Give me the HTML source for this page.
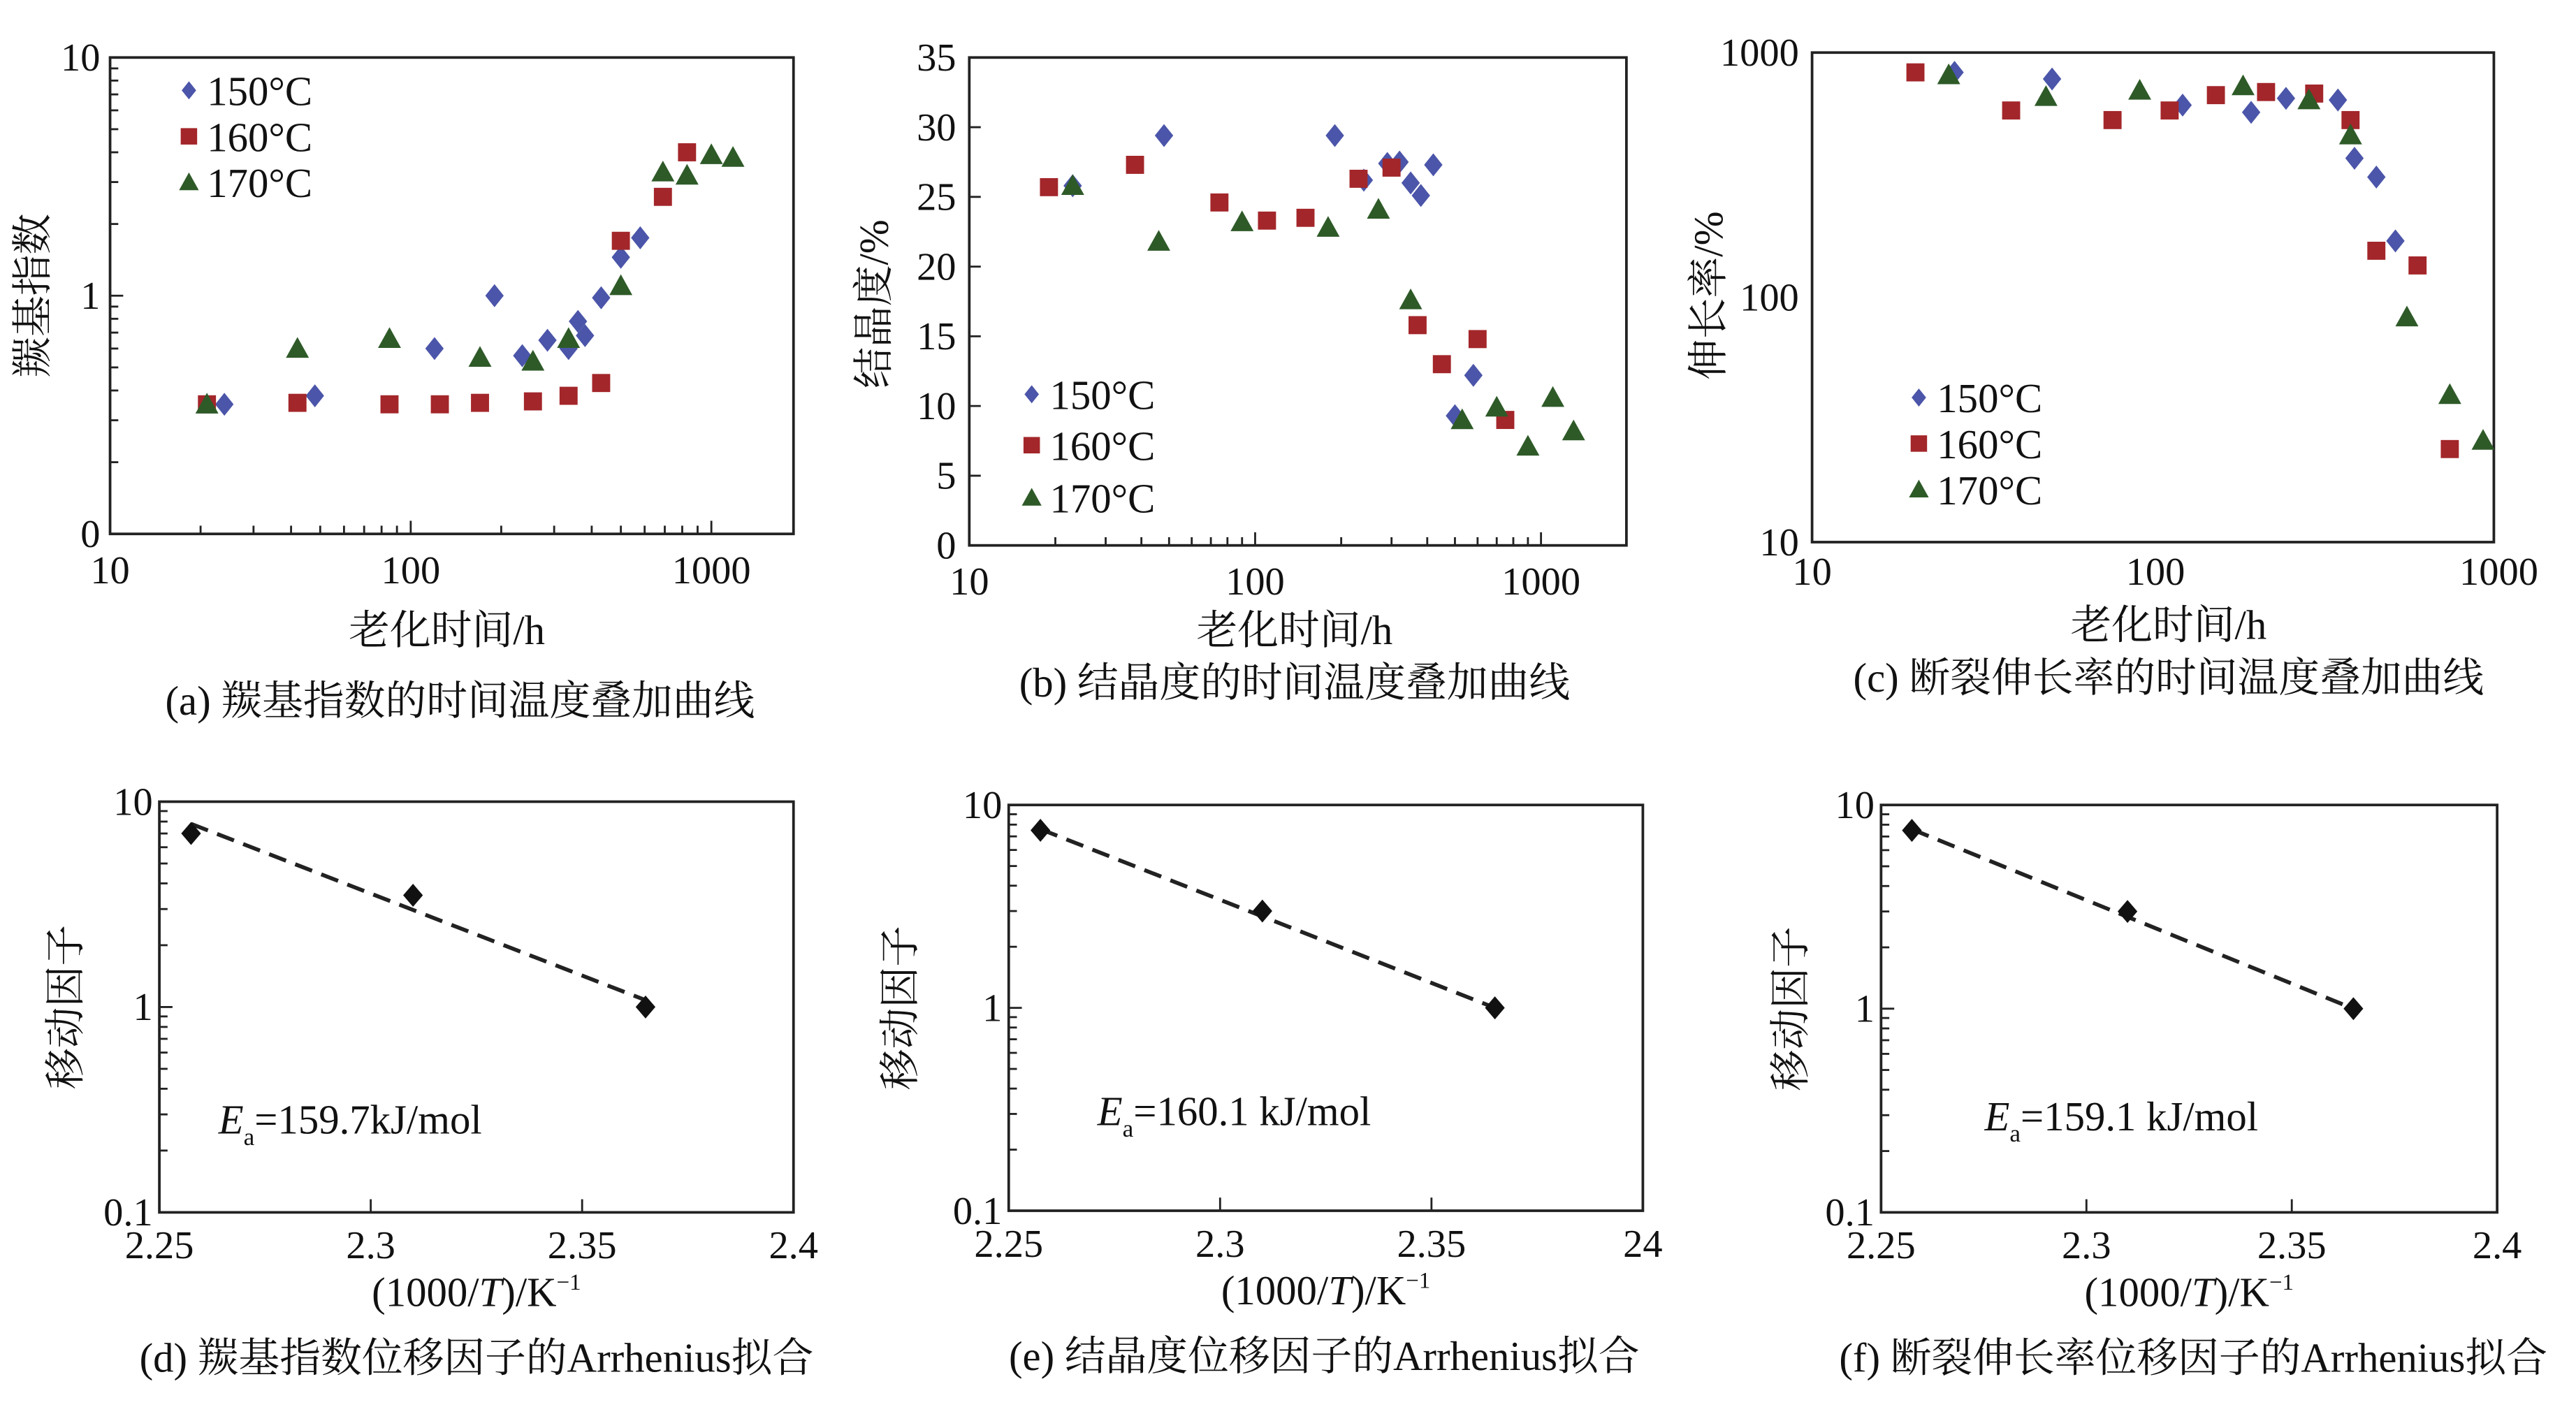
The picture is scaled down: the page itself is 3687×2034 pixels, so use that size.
<!DOCTYPE html>
<html><head><meta charset="utf-8"><style>
html,body{margin:0;padding:0;background:#fff;}
svg{display:block;}
</style></head><body>
<svg id="fig" xmlns="http://www.w3.org/2000/svg" width="3687" height="2034" viewBox="0 0 1568 865" preserveAspectRatio="none"></svg>
<script>
// ---- data ----
const aBlueX=[24,48,120,190,235,285,335,360,380,430,500,580];
const aBlueY=[0.35,0.38,0.6,1.0,0.56,0.65,0.6,0.78,0.68,0.98,1.45,1.75];
const aRedX=[21,42,85,125,170,255,335,430,500,690,830];
const aRedY=[0.35,0.355,0.35,0.35,0.355,0.36,0.38,0.43,1.7,2.6,4.0];
const aGreenX=[21,42,85,170,255,335,500,690,830,1000,1180];
const aGreenY=[0.35,0.6,0.66,0.55,0.53,0.66,1.1,3.3,3.2,3.9,3.8];

const bBlueX=[23,48,190,240,290,320,350,380,420,500,580];
const bBlueY=[25.8,29.4,29.4,26.2,27.4,27.5,26,25.1,27.3,9.3,12.2];
const bRedX=[19,38,75,110,150,230,300,370,450,600,750];
const bRedY=[25.7,27.3,24.6,23.3,23.5,26.3,27.1,15.8,13,14.8,9];
const bGreenX=[23,46,90,180,270,350,530,700,900,1100,1300];
const bGreenY=[25.8,21.8,23.2,22.8,24.1,17.6,9,9.9,7.1,10.6,8.2];

const cBlueX=[26,50,120,190,240,340,380,440,500];
const cBlueY=[830,780,610,570,650,640,370,310,170];
const cRedX=[20,38,75,110,150,210,290,370,440,580,720];
const cRedY=[830,580,530,580,670,690,680,530,155,135,24];
const cGreenX=[25,48,90,180,280,370,540,720,900];
const cGreenY=[810,660,700,730,640,460,83,40,26];

const dX=[2.2575,2.31,2.365]; const dY=[7.0,3.5,1.0]; const dFit=[7.8,1.08];
const eX=[2.2575,2.31,2.365]; const eY=[7.5,3.0,1.0]; const eFit=[7.6,1.0];
const fX=[2.2575,2.31,2.365]; const fY=[7.5,3.0,1.0]; const fFit=[7.6,1.0];

const legendLabels=["150°C","160°C","170°C"];
const xTicksTime=[10,100,1000];
const yTicksA=[0.1,1,10]; const yTickLabelsA=["0","1","10"];
const yTicksB=[0,5,10,15,20,25,30,35];
const yTicksC=[10,100,1000];
const xTicksArr=[2.25,2.3,2.35,2.4];
const xTickLabelsDE=["2.25","2.3","2.35","2.4"];
const xTickLabelsE=["2.25","2.3","2.35","24"];
const yTicksArr=[0.1,1,10];

// ---- drawing ----
const NS="http://www.w3.org/2000/svg";
const svg=document.getElementById('fig');
const SERIF='"Liberation Serif","Noto Serif CJK SC",serif';
const TK=24, AX=25, CAP=25;
function el(tag,attrs,parent){const e=document.createElementNS(NS,tag);for(const k in attrs)e.setAttribute(k,attrs[k]);(parent||svg).appendChild(e);return e;}
function txt(s,x,y,size,parent,anchor,extra){const t=el('text',Object.assign({x:x,y:y,'font-size':size,'font-family':SERIF,'text-anchor':anchor||'middle',fill:'#111'},extra||{}),parent);t.textContent=s;return t;}
function logScale(d0,d1,p0,p1){return v=>p0+(Math.log10(v)-Math.log10(d0))/(Math.log10(d1)-Math.log10(d0))*(p1-p0);}
function linScale(d0,d1,p0,p1){return v=>p0+(v-d0)/(d1-d0)*(p1-p0);}
const COL=['#4b55a9','#a3262a','#2e5a28'];
function marker(type,x,y,g,s){
  let m;
  if(type===0){s=s||7;m=el('polygon',{points:`${x},${y-s} ${x+s*0.8},${y} ${x},${y+s} ${x-s*0.8},${y}`,fill:COL[0]},g);}
  else if(type===1){s=s||5.5;m=el('rect',{x:x-s,y:y-s,width:2*s,height:2*s,fill:COL[1]},g);}
  else {s=s||7;m=el('polygon',{points:`${x},${y-s} ${x+s},${y+s*0.8} ${x-s},${y+s*0.8}`,fill:COL[2]},g);}
  return m;
}
function box(g,x0,x1,y0,y1){el('rect',{x:x0,y:y0,width:x1-x0,height:y1-y0,fill:'none',stroke:'#222','stroke-width':1.6},g);}
function logXTicks(g,sx,d0,d1,yb,len){
  for(let e=Math.floor(Math.log10(d0));e<=Math.ceil(Math.log10(d1));e++){
    for(let k=1;k<10;k++){const v=k*Math.pow(10,e);if(v<d0||v>d1)continue;const x=sx(v);
      const l=k===1?len*1.6:len; el('line',{x1:x,x2:x,y1:yb,y2:yb-l,stroke:'#222','stroke-width':1.2},g);}
  }
}
function logYTicks(g,sy,d0,d1,xl,len){
  for(let e=Math.floor(Math.log10(d0));e<=Math.ceil(Math.log10(d1));e++){
    for(let k=1;k<10;k++){const v=k*Math.pow(10,e);if(v<d0||v>d1)continue;const y=sy(v);
      const l=k===1?len*1.6:len; el('line',{x1:xl,x2:xl+l,y1:y,y2:y,stroke:'#222','stroke-width':1.2},g);}
  }
}
function ylabel(g,s,x,y,size){const t=txt(s,x,y,size,g,'middle',{transform:`rotate(-90 ${x} ${y})`,'dominant-baseline':'central'});return t;}
function legend(g,x,ys){legendLabels.forEach((l,i)=>{const lg=el('g',{},g);
  
  
  marker(i,x,ys[i],lg,i===0?5.5:(i===1?5:6));txt(l,x+11,ys[i]+9,25,lg,'start');});}
function scatter(g,xs,ys,sx,sy,type,name){xs.forEach((v,i)=>{const m=marker(type,sx(v),sy(ys[i]),g);
  
  });}

// Panel a
(function(){const g=el('g',{});
 const X0=67,X1=483,Y0=35,Y1=325;const sx=logScale(10,1000,67,433);const sy=logScale(0.1,10,325,35);
 box(g,X0,X1,Y0,Y1);logXTicks(g,sx,10,1880,Y1,5);logYTicks(g,sy,0.1,10,X0,5);
 xTicksTime.forEach(v=>txt(String(v),sx(v),355,TK,g));
 yTicksA.forEach((v,i)=>txt(yTickLabelsA[i],X0-6,sy(v)+8,TK,g,'end'));
 ylabel(g,'羰基指数',20,180,AX);txt('老化时间/h',272,392,AX,g);txt('(a) 羰基指数的时间温度叠加曲线',280,435,CAP,g);
 scatter(g,aBlueX,aBlueY,sx,sy,0,'a-150');scatter(g,aRedX,aRedY,sx,sy,1,'a-160');scatter(g,aGreenX,aGreenY,sx,sy,2,'a-170');
 legend(g,115,[55,83,111]);})();
// Panel b
(function(){const g=el('g',{});
 const X0=590,X1=990,Y0=35,Y1=332;const sx=logScale(10,1000,590,938);const sy=linScale(0,35,332,35);
 box(g,X0,X1,Y0,Y1);logXTicks(g,sx,10,1980,Y1,5);
 yTicksB.forEach(v=>{el('line',{x1:X0,x2:X0+7,y1:sy(v),y2:sy(v),stroke:'#222','stroke-width':1.2},g);txt(String(v),X0-8,sy(v)+8,TK,g,'end');});
 xTicksTime.forEach(v=>txt(String(v),sx(v),362,TK,g));
 ylabel(g,'结晶度/%',532,185,AX);txt('老化时间/h',788,392,AX,g);txt('(b) 结晶度的时间温度叠加曲线',788,424,CAP,g);
 scatter(g,bBlueX,bBlueY,sx,sy,0,'b-150');scatter(g,bRedX,bRedY,sx,sy,1,'b-160');scatter(g,bGreenX,bGreenY,sx,sy,2,'b-170');
 legend(g,628,[240,271,303]);})();
// Panel c
(function(){const g=el('g',{});
 const X0=1103,X1=1518,Y0=32,Y1=330;const sx=logScale(10,1000,1103,1521);const sy=logScale(10,1000,330,32);
 box(g,X0,X1,Y0,Y1);
 yTicksC.forEach(v=>txt(String(v),X0-8,sy(v)+8,TK,g,'end'));
 xTicksTime.forEach(v=>txt(String(v),sx(v),356,TK,g));
 ylabel(g,'伸长率/%',1040,180,AX);txt('老化时间/h',1320,389,AX,g);txt('(c) 断裂伸长率的时间温度叠加曲线',1320,421,CAP,g);
 scatter(g,cBlueX,cBlueY,sx,sy,0,'c-150');scatter(g,cRedX,cRedY,sx,sy,1,'c-160');scatter(g,cGreenX,cGreenY,sx,sy,2,'c-170');
 legend(g,1168,[242,270,298]);})();
// Arrhenius panels
function arr(name,X0,X1,Y0,Y1,xs,ys,fit,xlabels,ylx,ea,eax,eay,cap,capx){
 const g=el('g',{});
 const sx=linScale(2.25,2.4,X0,X1);const sy=logScale(0.1,10,Y1,Y0);
 box(g,X0,X1,Y0,Y1);logYTicks(g,sy,0.1,10,X0,5);
 xTicksArr.forEach((v,i)=>{el('line',{x1:sx(v),x2:sx(v),y1:Y1,y2:Y1-8,stroke:'#222','stroke-width':1.2},g);txt(xlabels[i],sx(v),Y1+28,TK,g);});
 yTicksArr.forEach(v=>txt(String(v),X0-4,sy(v)+8,TK,g,'end'));
 const ln=el('line',{x1:sx(xs[0]),y1:sy(fit[0]),x2:sx(xs[2]),y2:sy(fit[1]),stroke:'#222','stroke-width':2.4,'stroke-dasharray':'11,6'},g);
 
 xs.forEach((v,i)=>{const x=sx(v),y=sy(ys[i]);const p=el('polygon',{points:`${x},${y-7} ${x+6},${y} ${x},${y+7} ${x-6},${y}`,fill:'#111'},g);
  });
 ylabel(g,'移动因子',ylx,(Y0+Y1)/2,AX);
 const t=el('text',{x:eax,y:eay,'font-size':25,'font-family':SERIF,fill:'#111'},g);
 t.innerHTML='<tspan font-style="italic">E</tspan><tspan font-size="15" dy="7">a</tspan><tspan dy="-7">'+ea+'</tspan>';
 const xl=el('text',{x:(X0+X1)/2,y:Y1+57,'font-size':AX,'font-family':SERIF,'text-anchor':'middle',fill:'#111'},g);
 xl.innerHTML='(1000/<tspan font-style="italic">T</tspan>)/K<tspan font-size="14" dy="-10">−1</tspan>';
 txt(cap,capx,Y1+97,CAP,g);
}
arr('panel-d-arrhenius-carbonyl',97,483,488,738,dX,dY,dFit,xTickLabelsDE,40,'=159.7kJ/mol',133,690,'(d) 羰基指数位移因子的Arrhenius拟合',290);
arr('panel-e-arrhenius-crystallinity',614,1000,490,737,eX,eY,eFit,xTickLabelsE,548,'=160.1 kJ/mol',668,685,'(e) 结晶度位移因子的Arrhenius拟合',806);
arr('panel-f-arrhenius-elongation',1145,1520,490,738,fX,fY,fFit,xTickLabelsDE,1090,'=159.1 kJ/mol',1208,688,'(f) 断裂伸长率位移因子的Arrhenius拟合',1335);
</script>
</body></html>
